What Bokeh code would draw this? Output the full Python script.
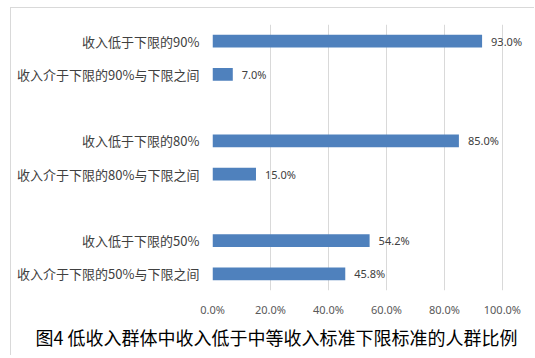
from bokeh.plotting import figure
from bokeh.models import FactorRange, Range1d, FixedTicker, PrintfTickFormatter, ColumnDataSource, Title, LabelSet
from bokeh.embed import file_html
from bokeh.resources import INLINE
from bokeh.core.properties import value

categories = ["收入低于下限的90%", "收入介于下限的90%与下限之间",
              "收入低于下限的80%", "收入介于下限的80%与下限之间",
              "收入低于下限的50%", "收入介于下限的50%与下限之间"]
values = [93.0, 7.0, 85.0, 15.0, 54.2, 45.8]
x_ticks = [0, 20, 40, 60, 80, 100]
title_text = "图4  低收入群体中收入低于中等收入标准下限标准的人群比例"

# slots top-to-bottom, with blank spacer slots between groups
slots = categories[0:2] + [" "] + categories[2:4] + ["  "] + categories[4:6]

src = ColumnDataSource(dict(cat=categories, val=values,
                            lab=["%.1f%%" % v for v in values]))

p = figure(width=524, height=348, output_backend="svg", toolbar_location=None,
           y_range=FactorRange(factors=list(reversed(slots)), range_padding=0),
           x_range=Range1d(0, 109.7),
           min_border_left=201, min_border_right=5, min_border_top=16, min_border_bottom=66)
p.margin = (7, 0, 0, 10)
p.styles = {"border-top": "1px solid #d9d9d9", "border-left": "1px solid #d9d9d9"}
p.outline_line_color = None
p.background_fill_color = "white"
p.border_fill_color = "white"

p.hbar(y="cat", right="val", left=0, height=0.39, source=src,
       fill_color="#4f81bd", line_color=None)

labels = LabelSet(x="val", y="cat", text="lab", source=src, x_offset=9,
                  text_baseline="middle", text_font=value("Noto Sans"), text_font_size="11px",
                  text_color="#404040")
p.add_layout(labels)

p.xaxis.ticker = FixedTicker(ticks=x_ticks)
p.xaxis.formatter = PrintfTickFormatter(format="%.1f%%")
p.xaxis.axis_line_color = None
p.xaxis.major_tick_line_color = None
p.xaxis.minor_tick_line_color = None
p.xaxis.major_label_text_font = "Noto Sans"
p.xaxis.major_label_text_font_size = "11px"
p.xaxis.major_label_text_color = "#595959"
p.xaxis.major_label_standoff = 5

p.yaxis.axis_line_color = None
p.yaxis.major_tick_line_color = None
p.yaxis.minor_tick_line_color = None
p.yaxis.major_label_text_font = "Noto Sans CJK SC"
p.yaxis.major_label_text_font_size = "13px"
p.yaxis.major_label_text_color = "#404040"
p.yaxis.major_label_standoff = 7

p.xgrid.grid_line_color = "#d9d9d9"
p.xgrid.ticker = FixedTicker(ticks=x_ticks)
p.ygrid.grid_line_color = None

t = Title(text=title_text, align="left", offset=-177, text_font="Noto Sans CJK SC",
          text_font_size="18px", text_font_style="normal", text_color="#000000",
          standoff=4)
p.add_layout(t, "below")

open("out.html", "w").write(file_html(p, INLINE))
